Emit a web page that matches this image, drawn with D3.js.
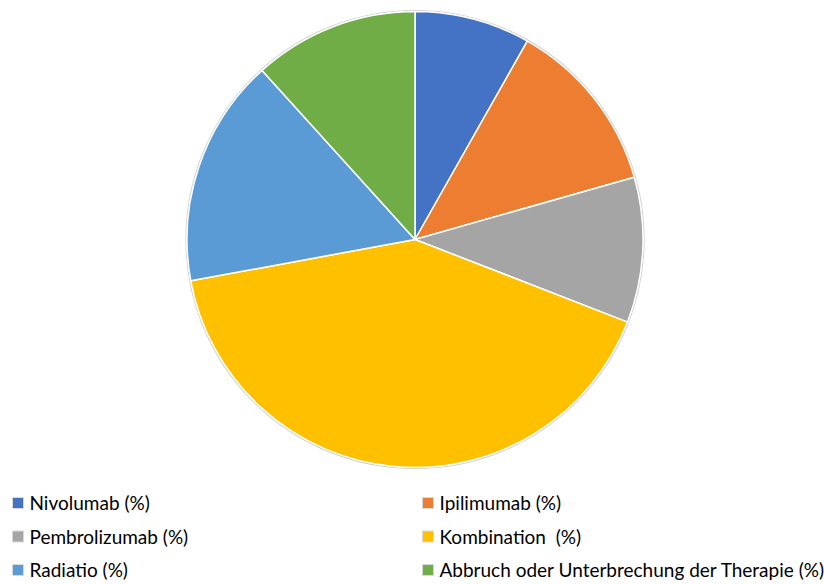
<!DOCTYPE html>
<html>
<head>
<meta charset="utf-8">
<script src="https://cdn.jsdelivr.net/npm/d3@7"></script>
<style>
  html, body { margin: 0; padding: 0; background: #fff; }
  svg { display: block; }
  .legend text { white-space: pre; }
</style>
</head>
<body>
<svg id="chart" width="824" height="584"></svg>
<script>
// Therapy distribution (percent)
const categories = [
  "Nivolumab (%)",
  "Ipilimumab (%)",
  "Pembrolizumab (%)",
  "Kombination  (%)",
  "Radiatio (%)",
  "Abbruch oder Unterbrechung der Therapie (%)"
];
const values = [8.2, 12.4, 10.3, 41.2, 16.2, 11.7];
const colors = ["#4472C4", "#ED7D31", "#A5A5A5", "#FFC000", "#5B9BD5", "#70AD47"];

const data = categories.map((c, i) => ({ name: c, value: values[i], color: colors[i] }));

const svg = d3.select("#chart");
const cx = 415, cy = 239.5, r = 228;

const pie = d3.pie().value(d => d.value).sort(null);
const arc = d3.arc().innerRadius(0).outerRadius(r);

const g = svg.append("g").attr("transform", `translate(${cx},${cy})`);

// faint outer rim
g.append("circle")
  .attr("r", r + 1)
  .attr("fill", "none")
  .attr("stroke", "#cfcfcf")
  .attr("stroke-width", 1.2);

g.selectAll("path.slice")
  .data(pie(data))
  .join("path")
  .attr("class", "slice")
  .attr("d", arc)
  .attr("fill", d => d.data.color)
  .attr("stroke", "#fff")
  .attr("stroke-width", 1.5)
  .attr("stroke-linejoin", "round");

// Legend: two columns, three rows
const colX = [12, 422];
const rowBase = [510, 543.5, 577];
const fontSize = 19;

const legend = svg.append("g")
  .attr("class", "legend")
  .attr("font-family", "Lato, 'Open Sans', sans-serif");
const items = legend.selectAll("g.item")
  .data(data)
  .join("g")
  .attr("class", "item")
  .attr("transform", (d, i) => `translate(${colX[i % 2]},${rowBase[Math.floor(i / 2)]})`);

items.append("rect")
  .attr("x", 0.5)
  .attr("y", -12.5)
  .attr("width", 11)
  .attr("height", 11)
  .attr("fill", d => d.color)
  .attr("stroke", "#d9d9d9")
  .attr("stroke-width", 1);

items.append("text")
  .attr("x", 17.5)
  .attr("y", 0)
  .attr("font-size", fontSize)
  .attr("fill", "#000")
  .attr("xml:space", "preserve")
  .text(d => d.name);
</script>
</body>
</html>
